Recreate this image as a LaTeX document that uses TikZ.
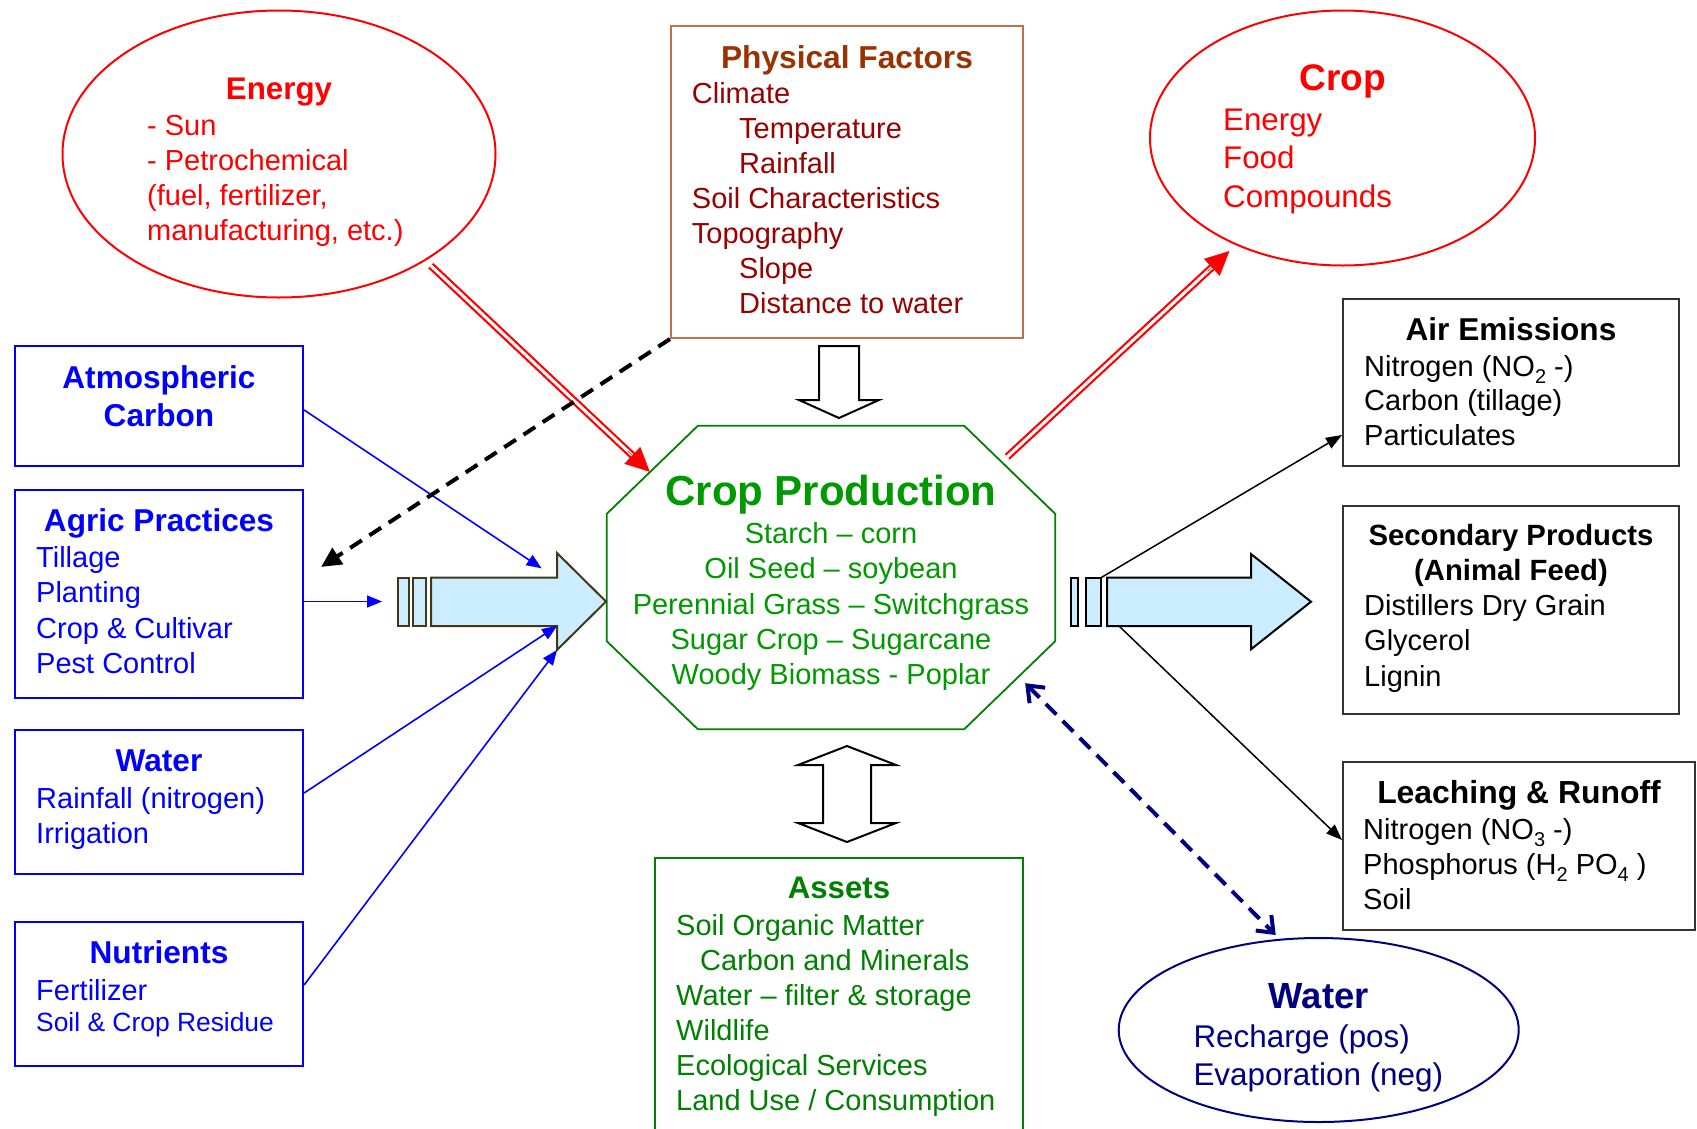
\documentclass[tikz,border=0pt]{standalone}
\usepackage{fontspec}
\setmainfont{Liberation Sans}
\usetikzlibrary{shapes.geometric,arrows.meta,calc}
\definecolor{pfborder}{RGB}{192,112,80}
\definecolor{pftitle}{RGB}{153,51,0}
\definecolor{pftext}{RGB}{153,0,0}
\definecolor{cpgreen}{RGB}{0,153,0}
\definecolor{dkgreen}{RGB}{0,128,0}
\definecolor{navyb}{RGB}{0,0,128}
\definecolor{lblue}{RGB}{204,236,255}
\definecolor{arrowol}{RGB}{64,56,24}
\definecolor{boxgray}{RGB}{51,51,51}
\newcommand\fsz[2]{\fontsize{#1}{#2}\selectfont}
\newcommand\sbs[1]{\raisebox{-7pt}{\fsz{20}{20}#1}}
\begin{document}
\begin{tikzpicture}[x=1pt,y=-1pt,
  every node/.style={inner sep=0pt},
  ttl/.style={anchor=base},
  blk/.style={anchor=base west},
  bluebox/.style={draw=blue, line width=2.2pt, minimum width=288pt},
  grayb/.style={draw=boxgray, line width=2pt},
  bluecon/.style={draw=blue, line width=1.6pt, -{Triangle[length=15pt,width=12pt]}},
  blackcon/.style={draw=black, line width=1.5pt, -{Triangle[length=16pt,width=12pt]}},
  redarr/.style={draw=red, line width=2.2pt, double=white, double distance=3pt},
  redtip/.style={draw=red, line width=0.5pt, -{Triangle[length=24pt,width=23pt]}},
  fatarrow/.style={line width=2pt, fill=lblue},
  hollow/.style={draw=black, line width=2pt, fill=white},
]
\useasboundingbox (0,0) rectangle (1697,1128);
\fill[white] (0,0) rectangle (1697,1128);

% ---------- shapes ----------
\node[ellipse, draw=red, line width=2pt, minimum width=433pt, minimum height=287pt] (energy) at (279,154) {};
\node[ellipse, draw=red, line width=2pt, minimum width=385pt, minimum height=255pt] (crop) at (1342.5,138) {};
\node[ellipse, draw=navyb, line width=2pt, minimum width=400pt, minimum height=184pt] (waterR) at (1318.7,1030) {};
\node[draw=pfborder, line width=2pt, minimum width=352pt, minimum height=312pt] (physf) at (847,182) {};
\node[bluebox, minimum height=120pt] (atmc) at (159,406) {};
\node[bluebox, minimum height=208pt] (agric) at (159,594) {};
\node[bluebox, minimum height=144pt] (waterL) at (159,802) {};
\node[bluebox, minimum height=144pt] (nutr) at (159,994) {};
\node[grayb, minimum width=336pt, minimum height=167pt] (air) at (1511,382.5) {};
\node[grayb, minimum width=336pt, minimum height=208pt] (sec) at (1511,610) {};
\node[grayb, minimum width=352pt, minimum height=168pt] (leach) at (1519,846) {};
\node[draw=dkgreen, line width=2pt, minimum width=368pt, minimum height=282pt] (assets) at (839,999) {};
\node[minimum width=448pt, minimum height=303pt] (prod) at (831,577.5) {};
\draw[dkgreen, line width=1.8pt]
  ($(prod.north west)+(91,0)$) -- ($(prod.north east)+(-91,0)$) --
  ($(prod.north east)+(0,88)$) -- ($(prod.south east)+(0,-88)$) --
  ($(prod.south east)+(-91,0)$) -- ($(prod.south west)+(91,0)$) --
  ($(prod.south west)+(0,-88)$) -- ($(prod.north west)+(0,88)$) -- cycle;

% ---------- texts ----------
\node[ttl, text=red, font=\bfseries\fsz{31.3}{36}] (energy-t) at (279,99) {Energy};
\node[blk, text=red] (energy-b) at (147,135) {\parbox[t]{320pt}{\fsz{29}{35}- Sun\\- Petrochemical\\(fuel, fertilizer,\\manufacturing, etc.)}};

\node[ttl, text=pftitle, font=\bfseries\fsz{31.7}{36}] (physf-t) at (847,68) {Physical Factors};
\node[blk, text=pftext] (physf-b) at (691.7,103) {\parbox[t]{320pt}{\fsz{29}{35}Climate\\\hspace*{47.3pt}Temperature\\\hspace*{47.3pt}Rainfall\\Soil Characteristics\\Topography\\\hspace*{47.3pt}Slope\\\hspace*{47.3pt}Distance to water}};

\node[ttl, text=red, font=\bfseries\fsz{37}{40}] (crop-t) at (1343,90) {Crop};
\node[blk, text=red] (crop-b) at (1223,130) {\parbox[t]{250pt}{\fsz{31.3}{38.5}Energy\\Food\\Compounds}};

\node[anchor=base, text=blue] (atmc-t) at (159,388.3) {\parbox[t]{280pt}{\centering\bfseries\fsz{31.6}{37.7}Atmospheric\\Carbon}};

\node[ttl, text=blue, font=\bfseries\fsz{31.6}{36}] (agric-t) at (159,531) {Agric Practices};
\node[blk, text=blue] (agric-b) at (36,567) {\parbox[t]{260pt}{\fsz{29}{35.5}Tillage\\Planting\\Crop \& Cultivar\\Pest Control}};

\node[ttl, text=blue, font=\bfseries\fsz{31.6}{36}] (waterL-t) at (159,771.7) {Water};
\node[blk, text=blue] (waterL-b) at (36,808.3) {\parbox[t]{260pt}{\fsz{29}{35}Rainfall (nitrogen)\\Irrigation}};

\node[ttl, text=blue, font=\bfseries\fsz{31.6}{36}] (nutr-t) at (159,963.3) {Nutrients};
\node[blk, text=blue, font=\fsz{29}{35}] (nutr-b1) at (36,1000) {Fertilizer};
\node[blk, text=blue, font=\fsz{26.4}{30}] (nutr-b2) at (36,1031.7) {Soil \& Crop Residue};

\node[ttl, text=cpgreen, font=\bfseries\fsz{42}{46}] (prod-t) at (831,505.7) {Crop Production};
\node[anchor=base, text=cpgreen] (prod-b) at (831,543.3) {\parbox[t]{440pt}{\centering\fsz{29}{35.4}Starch – corn\\Oil Seed – soybean\\Perennial Grass – Switchgrass\\Sugar Crop – Sugarcane\\Woody Biomass - Poplar}};

\node[ttl, font=\bfseries\fsz{31.6}{36}] (air-t) at (1511,340) {Air Emissions};
\node[blk] (air-b) at (1364,376) {\parbox[t]{300pt}{\fsz{29}{34.8}Nitrogen (NO\sbs{2} -)\\Carbon (tillage)\\Particulates}};

\node[anchor=base] (sec-t) at (1511,545) {\parbox[t]{330pt}{\centering\bfseries\fsz{29.3}{35}Secondary Products\\(Animal Feed)}};
\node[blk] (sec-b) at (1364,615) {\parbox[t]{300pt}{\fsz{29}{35.5}Distillers Dry Grain\\Glycerol\\Lignin}};

\node[ttl, font=\bfseries\fsz{31.9}{36}] (leach-t) at (1519,803) {Leaching \& Runoff};
\node[blk] (leach-b) at (1363,839.3) {\parbox[t]{320pt}{\fsz{29}{35}Nitrogen (NO\sbs{3} -)\\Phosphorus (H\sbs{2} PO\sbs{4} )\\Soil}};

\node[ttl, text=navyb, font=\bfseries\fsz{36.4}{40}] (waterR-t) at (1318.7,1008.3) {Water};
\node[blk, text=navyb] (waterR-b) at (1193.3,1047.3) {\parbox[t]{300pt}{\fsz{31.4}{37.7}Recharge (pos)\\Evaporation (neg)}};

\node[ttl, text=dkgreen, font=\bfseries\fsz{31.2}{36}] (assets-t) at (839,898.3) {Assets};
\node[blk, text=dkgreen] (assets-b) at (676,935) {\parbox[t]{340pt}{\fsz{29}{35}Soil Organic Matter\\\hspace*{24pt}Carbon and Minerals\\Water – filter \& storage\\Wildlife\\Ecological Services\\Land Use / Consumption}};

% ---------- fat arrows ----------
\draw[fatarrow, draw=arrowol] (398,577.5) rectangle (409,626);
\draw[fatarrow, draw=arrowol] (413,577.5) rectangle (426,626);
\draw[fatarrow, draw=arrowol] (431,577.5) -- (557,577.5) -- (557,553) -- (606,601.5) -- (557,650) -- (557,626) -- (431,626) -- cycle;
\draw[fatarrow, draw=black] (1071,577.7) rectangle (1078.3,626);
\draw[fatarrow, draw=black] (1085.6,577.7) rectangle (1100.6,626);
\draw[fatarrow, draw=black] (1107,577.7) -- (1251,577.7) -- (1251,554) -- (1311,601.7) -- (1251,649.3) -- (1251,626) -- (1107,626) -- cycle;
\coordinate (lfa-in) at (382,601.5);
\coordinate (lfa-top) at (541.6,568.3);
\coordinate (lfa-neck) at (557,626);
\coordinate (lfa-barb) at (557,650);
\coordinate (rfa-top) at (1101,577.7);
\coordinate (rfa-bot) at (1119,626);

% ---------- hollow block arrows ----------
\draw[hollow] (819,346) -- (859,346) -- (859,400) -- (879,400) -- (839,418) -- (799,400) -- (819,400) -- cycle;
\draw[hollow] (847,746) -- (896,765) -- (871,765) -- (871,823) -- (896,823) -- (847,842) -- (798,823) -- (823,823) -- (823,765) -- (798,765) -- cycle;

% ---------- connectors ----------
\draw[bluecon] ($(atmc.east)+(0,4)$) -- (lfa-top);
\draw[bluecon] (agric.east |- lfa-in) -- (lfa-in);
\draw[bluecon] ($(waterL.east)+(0,-9)$) -- (lfa-neck);
\draw[bluecon] ($(nutr.east)+(0,-9)$) -- (lfa-barb);

\draw[blackcon] (rfa-top) -- ($(air.south west)+(0,-32)$);
\draw[blackcon] (rfa-bot) -- ($(leach.west)+(0,-6)$);

\coordinate (e-s) at ($(energy.-36)+(5,5)$);
\coordinate (e-e) at ($(prod.north west)+(43,46)$);
\draw[redarr, shorten >=18pt] (e-s) -- (e-e);
\draw[redtip] ($(e-e)!30pt!(e-s)$) -- (e-e);

\coordinate (c-s) at ($(prod.north east)+(-48,31)$);
\coordinate (c-e) at ($(crop.225)+(-6,6)$);
\draw[redarr, shorten >=18pt] (c-s) -- (c-e);
\draw[redtip] ($(c-e)!30pt!(c-s)$) -- (c-e);

\coordinate (pf-end) at ($(agric.north east)+(17,78)$);
\draw[black, line width=4pt, dash pattern=on 14pt off 9pt, -{Triangle[length=20pt,width=19pt]}] (physf.south west) -- (pf-end);

\coordinate (w-a) at ($(prod.south east)+(-30,-46)$);
\coordinate (w-b) at ($(waterR.north)+(-43,-2)$);
\draw[navyb, line width=4pt, dash pattern=on 15pt off 9pt, {Straight Barb[length=14pt,width=22pt]}-{Straight Barb[length=14pt,width=22pt]}] (w-a) -- (w-b);
\end{tikzpicture}
\end{document}
